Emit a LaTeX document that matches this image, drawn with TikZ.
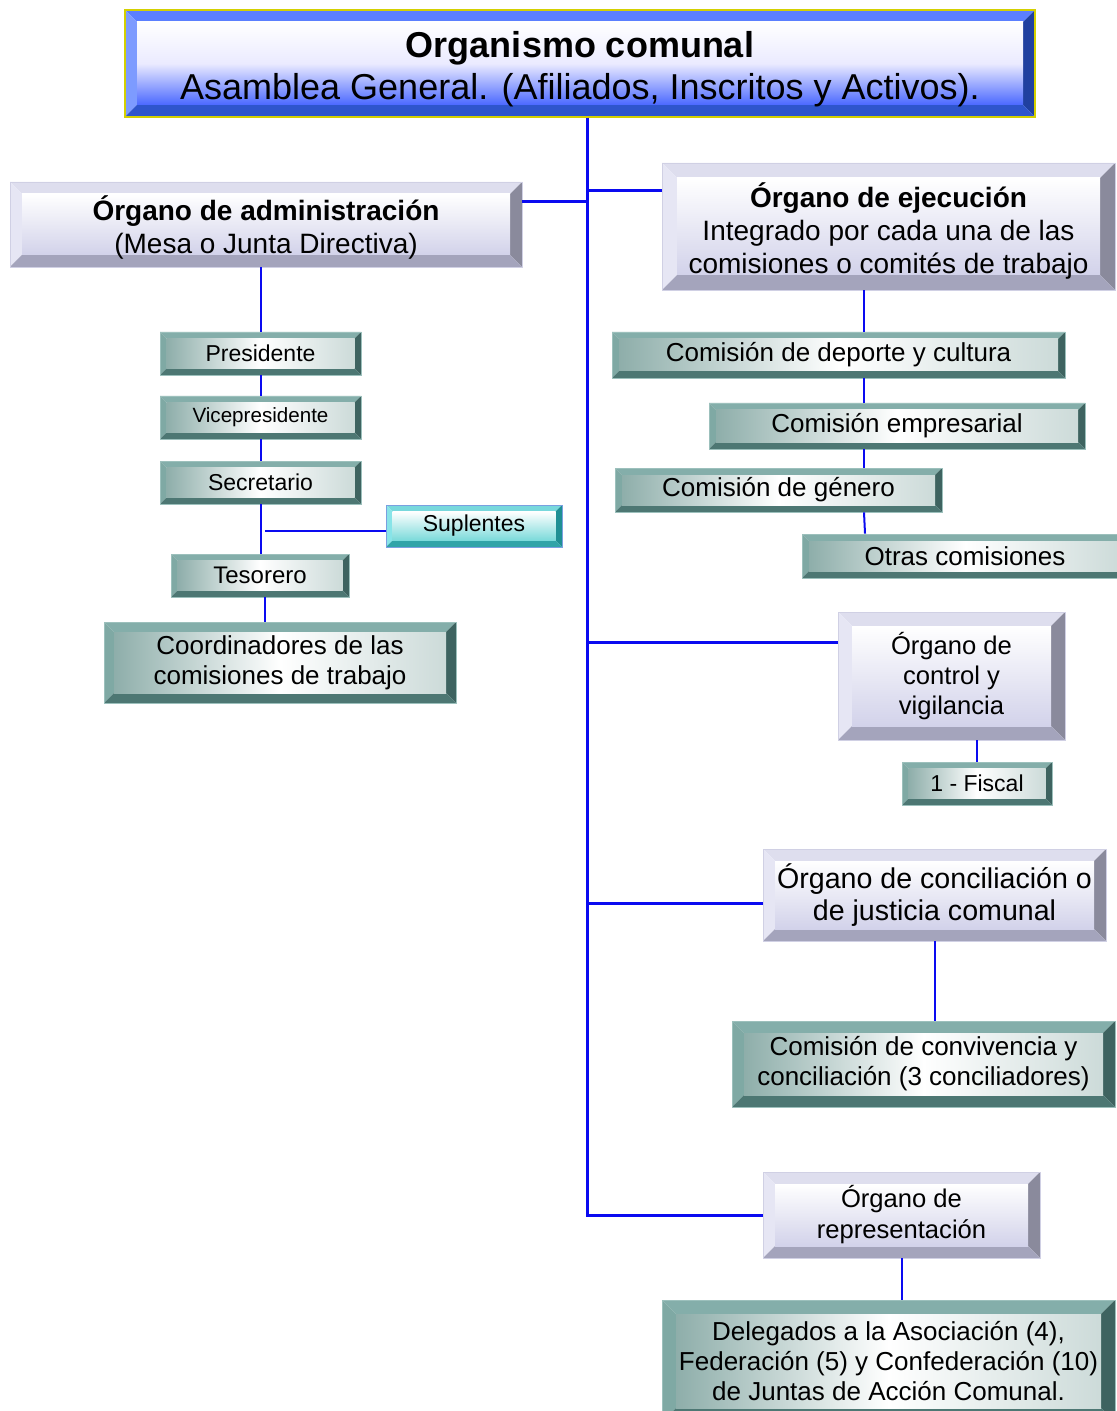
\documentclass[tikz,border=0pt]{standalone}
\usepackage{fontspec}
\setmainfont{Liberation Sans}
\usetikzlibrary{calc}

\definecolor{bluetop}{HTML}{5B7FFF}
\definecolor{blueleft}{HTML}{7D9BFF}
\definecolor{blueright}{HTML}{2040A0}
\definecolor{bluebot}{HTML}{2E55CC}
\definecolor{blueinner}{HTML}{4A68FF}
\definecolor{bluerim}{HTML}{D4D000}
\definecolor{lavtop}{HTML}{DEDEEE}
\definecolor{lavleft}{HTML}{E6E6F4}
\definecolor{lavright}{HTML}{8A8A9C}
\definecolor{lavbot}{HTML}{A4A4BC}
\definecolor{lavinner}{HTML}{D2D2EA}
\definecolor{lavrim}{HTML}{D0D0E4}
\definecolor{tealtop}{HTML}{84AEAA}
\definecolor{tealleft}{HTML}{7FA9A4}
\definecolor{tealright}{HTML}{3E6360}
\definecolor{tealbot}{HTML}{4D7773}
\definecolor{tealinner}{HTML}{8EAEAA}
\definecolor{tealrim}{HTML}{9CC0BC}
\definecolor{cyantop}{HTML}{78D8DC}
\definecolor{cyanleft}{HTML}{88E4E8}
\definecolor{cyanright}{HTML}{1F8F94}
\definecolor{cyanbot}{HTML}{30A4A8}
\definecolor{cyaninner}{HTML}{7ADADA}
\definecolor{cyanrim}{HTML}{7AA0E0}
\definecolor{linkblue}{HTML}{0A0AF0}

\newcommand{\bevw}{3pt}
% bevelled frame: top, left, right, bottom, inner shading
\newcommand{\bevelpic}[5]{%
  \coordinate (bsw) at (path picture bounding box.south west);
  \coordinate (bne) at (path picture bounding box.north east);
  \coordinate (bnw) at (bsw |- bne);
  \coordinate (bse) at (bne |- bsw);
  \coordinate (isw) at ($(bsw)+(\bevw,\bevw)$);
  \coordinate (ine) at ($(bne)+(-\bevw,-\bevw)$);
  \coordinate (inw) at (isw |- ine);
  \coordinate (ise) at (ine |- isw);
  \fill[#1] (bnw) -- (bne) -- (ine) -- (inw) -- cycle;
  \fill[#2] (bnw) -- (inw) -- (isw) -- (bsw) -- cycle;
  \fill[#3] (bne) -- (bse) -- (ise) -- (ine) -- cycle;
  \fill[#4] (bsw) -- (isw) -- (ise) -- (bse) -- cycle;
  \shade[#5] (isw) rectangle (ine);
}

\tikzset{
  bw/.store in=\bevw,
  wh/.style 2 args={minimum width=#1*0.5pt, minimum height=#2*0.5pt},
  box/.style={rectangle, inner sep=0pt, align=center, line width=0.4pt},
  headbox/.style={box, draw=bluerim, line width=0.6pt, bw=6pt, font=\fontsize{18}{21}\selectfont,
    path picture={\bevelpic{bluetop}{blueleft}{blueright}{bluebot}{top color=white, bottom color=blueinner, middle color=blue!8}}},
  organbox/.style={box, draw=lavrim, bw=6pt, font=\fontsize{14}{16.5}\selectfont,
    path picture={\bevelpic{lavtop}{lavleft}{lavright}{lavbot}{top color=white, bottom color=lavinner}}},
  membox/.style={box, draw=tealrim, bw=3.25pt, font=\fontsize{11.5}{14}\selectfont,
    path picture={\bevelpic{tealtop}{tealleft}{tealright}{tealbot}{left color=tealinner, right color=tealinner!45, middle color=white}}},
  combox/.style={membox, bw=3.5pt, font=\fontsize{13}{15}\selectfont},
  altbox/.style={box, draw=cyanrim, bw=3.25pt, font=\fontsize{11.5}{14}\selectfont,
    path picture={\bevelpic{cyantop}{cyanleft}{cyanright}{cyanbot}{top color=white, bottom color=cyaninner}}},
  link/.style={draw=linkblue, line width=1pt},
  trunk/.style={draw=linkblue, line width=1.5pt},
}

\begin{document}
\begin{tikzpicture}[x={(0.5pt,0)}, y={(0,-0.5pt)}]
\useasboundingbox (0,0) rectangle (1117,1411);

% head
\node[headbox, wh={910}{107}] (asamblea) at (580,63.5) {\rule{0pt}{18.3pt}\textbf{Organismo comunal}\\Asamblea General. (Afiliados, Inscritos y Activos).};

% organos
\node[organbox, wh={512}{85}] (admin) at (266,224.5) {\rule{0pt}{15pt}\textbf{Órgano de administración}\\(Mesa o Junta Directiva)};
\node[organbox, wh={453}{127}, bw=7.5pt] (ejec) at (888.5,226.5) {\rule{0pt}{17pt}\textbf{Órgano de ejecución}\\Integrado por cada una de las\\comisiones o comités de trabajo};
\node[organbox, wh={227}{128}, bw=7pt, font=\fontsize{12.8}{15}\selectfont] (control) at (951.5,676) {Órgano de\\control y\\vigilancia};
\node[organbox, wh={343}{92}, font=\fontsize{14.3}{16}\selectfont] (concil) at (934.5,895) {Órgano de conciliación o\\de justicia comunal};
\node[organbox, wh={277}{86}, font=\fontsize{12.8}{15.5}\selectfont] (repres) at (901.5,1215) {Órgano de\\representación};

% mesa directiva
\node[membox, wh={201}{43}] (pres) at (260.5,353.5) {Presidente};
\node[membox, wh={201}{43}, font=\fontsize{10.3}{12}\selectfont] (vice) at (260.5,417.5) {Vicepresidente};
\node[membox, wh={201}{43}] (secr) at (260.5,482.5) {Secretario};
\node[altbox, wh={176}{42}] (supl) at (474,526) {Suplentes};
\node[membox, wh={178}{43}, font=\fontsize{12}{14}\selectfont] (teso) at (260,575.5) {Tesorero};
\node[combox, wh={352}{81}, bw=5pt] (coord) at (280,662.5) {Coordinadores de las\\comisiones de trabajo};

% comisiones
\node[combox, wh={453}{46}] (deporte) at (838.5,355) {Comisión de deporte y cultura};
\node[combox, wh={376}{46}] (empres) at (897,426) {Comisión empresarial};
\node[combox, wh={327}{44}] (genero) at (778.5,490) {Comisión de género};
\node[combox, wh={326}{44}] (otras) at (965,556) {Otras comisiones};
\node[membox, wh={150}{43}] (fiscal) at (977,783.5) {1 - Fiscal};
\node[combox, wh={383}{86}, bw=6pt] (conviv) at (923.5,1064) {Comisión de convivencia y\\conciliación (3 conciliadores)};
\node[combox, wh={453}{122}, bw=7pt] (deleg) at (888.5,1361) {Delegados a la Asociación (4),\\Federación (5) y Confederación (10)\\de Juntas de Acción Comunal.};

% conectores
\coordinate (tr) at (587,0);
\coordinate (ej) at (864,0);
\draw[trunk] (asamblea.south -| tr) -- (repres.west -| tr) -- (repres.west);
\draw[trunk] ([yshift=11.25pt]admin.east) -- ([yshift=11.25pt]admin.east -| tr);
\draw[trunk] ([yshift=17.75pt]ejec.west) -- ([yshift=17.75pt]ejec.west -| tr);
\draw[trunk] ([yshift=17pt]control.west) -- ([yshift=17pt]control.west -| tr);
\draw[trunk] ([yshift=-4pt]concil.west) -- ([yshift=-4pt]concil.west -| tr);

\draw[link] (pres.north) -- (pres.north |- admin.south);
\draw[link] (pres) -- (vice);
\draw[link] (vice) -- (secr);
\draw[link] (secr.south) -- (secr.south |- teso.north);
\draw[link] ([yshift=-2.5pt]supl.west) -- ([yshift=-2.5pt,xshift=2pt]supl.west -| secr.south);
\draw[link] ([xshift=2.5pt]teso.south) -- ([xshift=2.5pt]teso.south |- coord.north);

\draw[link] (ejec.south -| ej) -- (deporte.north -| ej);
\draw[link] (deporte.south -| ej) -- (empres.north -| ej);
\draw[link] (empres.south -| ej) -- (genero.north -| ej);
\draw[link] (genero.south -| ej) -- ([xshift=0.5pt]otras.north -| ej);

\draw[link] (fiscal.north) -- (fiscal.north |- control.south);
\draw[link] (concil.south) -- (concil.south |- conviv.north);
\draw[link] (repres.south) -- (repres.south |- deleg.north);
\end{tikzpicture}
\end{document}
